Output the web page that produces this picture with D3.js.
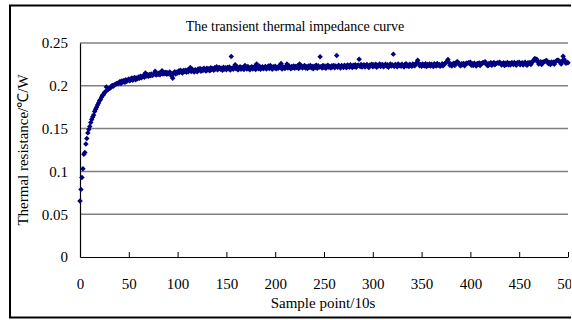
<!DOCTYPE html>
<html><head><meta charset="utf-8">
<script src="https://cdn.jsdelivr.net/npm/d3@7/dist/d3.min.js"></script>
<style>body{margin:0;background:#fff}svg{display:block}text{font-family:"Liberation Serif","Times New Roman",serif;fill:#000}</style>
</head><body><svg id="c" width="572" height="320"></svg>
<script>
const title = "The transient thermal impedance curve";
const xTitle = "Sample point/10s";
const yTitle = "Thermal resistance/\u2103/W";
const xTicks = [0,50,100,150,200,250,300,350,400,450,500];
const yTicks = [0,0.05,0.1,0.15,0.2,0.25];
const yTickLabels = ["0","0.05","0.1","0.15","0.2","0.25"];
// thermal resistance for sample points 0..500
const values = [
.0655,.0790,.0930,.1030,.1200,.1220,.1320,.1385,.1450,.1490,
.1525,.1570,.1605,.1635,.1660,.1700,.1725,.1750,.1775,.1800,
.1825,.1840,.1865,.1890,.1895,.1920,.1930,.1985,.1950,.1960,
.1970,.1975,.1990,.2005,.1995,.2010,.2015,.2020,.2030,.2025,
.2035,.2050,.2028,.2056,.2044,.2062,.2040,.2071,.2052,.2065,
.2080,.2058,.2074,.2090,.2066,.2085,.2098,.2072,.2092,.2081,
.2103,.2088,.2112,.2095,.2108,.2120,.2100,.2150,.2115,.2128,
.2110,.2132,.2118,.2138,.2121,.2130,.2142,.2170,.2126,.2145,
.2133,.2150,.2128,.2146,.2175,.2137,.2155,.2141,.2158,.2134,
.2152,.2140,.2161,.2145,.2112,.2088,.2147,.2163,.2139,.2158,
.2148,.2172,.2155,.2181,.2162,.2150,.2178,.2166,.2183,.2158,
.2186,.2163,.2191,.2215,.2168,.2194,.2172,.2160,.2189,.2177,
.2165,.2196,.2184,.2201,.2170,.2193,.2179,.2204,.2188,.2174,
.2206,.2183,.2199,.2177,.2210,.2190,.2203,.2181,.2212,.2195,
.2222,.2186,.2208,.2214,.2192,.2205,.2181,.2216,.2197,.2210,
.2188,.2214,.2199,.2219,.2185,.2343,.2207,.2192,.2217,.2245,
.2198,.2221,.2186,.2210,.2224,.2193,.2215,.2201,.2190,.2236,
.2219,.2195,.2226,.2203,.2188,.2214,.2222,.2196,.2209,.2227,
.2191,.2256,.2216,.2200,.2228,.2193,.2212,.2223,.2198,.2217,
.2225,.2196,.2214,.2230,.2201,.2236,.2219,.2192,.2222,.2208,
.2229,.2199,.2218,.2205,.2231,.2213,.2260,.2197,.2224,.2210,
.2202,.2228,.2256,.2207,.2233,.2216,.2199,.2225,.2211,.2232,
.2205,.2226,.2214,.2235,.2201,.2256,.2219,.2230,.2208,.2224,
.2236,.2207,.2222,.2203,.2231,.2216,.2238,.2210,.2227,.2200,
.2229,.2213,.2240,.2206,.2234,.2218,.2340,.2225,.2209,.2237,
.2214,.2232,.2205,.2228,.2239,.2217,.2226,.2208,.2235,.2220,
.2238,.2212,.2230,.2355,.2216,.2241,.2222,.2209,.2236,.2227,
.2215,.2240,.2224,.2211,.2243,.2230,.2218,.2246,.2226,.2213,
.2241,.2222,.2247,.2216,.2235,.2244,.2310,.2225,.2249,.2219,
.2238,.2245,.2220,.2233,.2250,.2227,.2215,.2242,.2236,.2251,
.2223,.2246,.2230,.2252,.2218,.2240,.2235,.2254,.2226,.2244,
.2249,.2221,.2238,.2253,.2230,.2245,.2217,.2241,.2255,.2232,
.2247,.2370,.2226,.2250,.2239,.2222,.2256,.2234,.2244,.2228,
.2251,.2236,.2220,.2248,.2257,.2231,.2243,.2225,.2252,.2238,
.2229,.2254,.2241,.2235,.2258,.2268,.2298,.2262,.2233,.2249,
.2227,.2255,.2240,.2233,.2259,.2224,.2248,.2238,.2256,.2230,
.2252,.2236,.2226,.2257,.2244,.2231,.2260,.2239,.2250,.2228,
.2241,.2258,.2233,.2249,.2262,.2270,.2285,.2308,.2272,.2240,
.2256,.2230,.2251,.2263,.2238,.2265,.2278,.2282,.2262,.2243,
.2235,.2259,.2247,.2262,.2233,.2254,.2265,.2262,.2270,.2266,
.2275,.2240,.2258,.2236,.2263,.2248,.2231,.2260,.2252,.2267,
.2238,.2261,.2264,.2272,.2268,.2280,.2266,.2244,.2235,.2262,
.2249,.2268,.2239,.2258,.2271,.2245,.2257,.2265,.2270,.2264,
.2276,.2262,.2243,.2259,.2270,.2237,.2264,.2250,.2272,.2246,
.2261,.2242,.2270,.2266,.2248,.2273,.2255,.2240,.2268,.2259,
.2274,.2247,.2262,.2270,.2244,.2265,.2276,.2251,.2241,.2268,
.2257,.2272,.2250,.2276,.2285,.2300,.2318,.2302,.2310,.2280,
.2255,.2270,.2281,.2248,.2276,.2278,.2285,.2290,.2296,.2280,
.2258,.2273,.2250,.2279,.2266,.2276,.2253,.2282,.2290,.2298,
.2300,.2285,.2275,.2256,.2290,.2345,.2310,.2278,.2262,.2274,
.2268];

const svg = d3.select("#c");
const defs = svg.append("defs");
defs.append("clipPath").attr("id","vp").append("rect").attr("x",0).attr("y",0).attr("width",571).attr("height",320);
const root = svg.append("g").attr("clip-path","url(#vp)");

// outer frame
root.append("rect").attr("x",10).attr("y",5.5).attr("width",600).attr("height",312)
  .attr("fill","#fff").attr("stroke","#000").attr("stroke-width",2);

const x = d3.scaleLinear().domain([0,500]).range([80,568]);
const y = d3.scaleLinear().domain([0,0.25]).range([257,43]);

// gridlines
root.append("g").selectAll("line").data(yTicks.filter(d=>d>0)).join("line")
  .attr("x1",x(0)).attr("x2",x(500)).attr("y1",d=>y(d)).attr("y2",d=>y(d))
  .attr("stroke","#808080").attr("stroke-width",1.5);

// x axis
const xa = root.append("g").attr("transform",`translate(0,${y(0)})`)
  .call(d3.axisBottom(x).tickValues(xTicks).tickSizeInner(-5).tickSizeOuter(0).tickPadding(21).tickFormat(d3.format("d")));
xa.select(".domain").attr("stroke","#000").attr("stroke-width",1.2);
xa.selectAll(".tick line").attr("stroke","#000");
xa.selectAll(".tick text").attr("font-size",15).attr("font-family","Liberation Serif, serif");

// y axis
const ya = root.append("g").attr("transform",`translate(${x(0)},0)`)
  .call(d3.axisLeft(y).tickValues(yTicks).tickSize(0).tickPadding(12).tickFormat((d,i)=>yTickLabels[i]));
ya.select(".domain").attr("stroke","#000").attr("stroke-width",1.2);
ya.selectAll(".tick text").attr("font-size",15).attr("font-family","Liberation Serif, serif");

// points
const sym = d3.symbol().type(d3.symbolSquare).size(15);
root.append("g").selectAll("path").data(values).join("path")
  .attr("d",sym)
  .attr("transform",(d,i)=>`translate(${x(i)},${y(d)}) rotate(45)`)
  .attr("fill","#000080");

// titles
root.append("text").attr("x",295).attr("y",31).attr("text-anchor","middle").attr("font-size",14).text(title);
root.append("text").attr("x",323).attr("y",308).attr("text-anchor","middle").attr("font-size",15).text(xTitle);
root.append("text").attr("transform","translate(28,150) rotate(-90)").attr("text-anchor","middle").attr("font-size",15).text(yTitle);
</script></body></html>
